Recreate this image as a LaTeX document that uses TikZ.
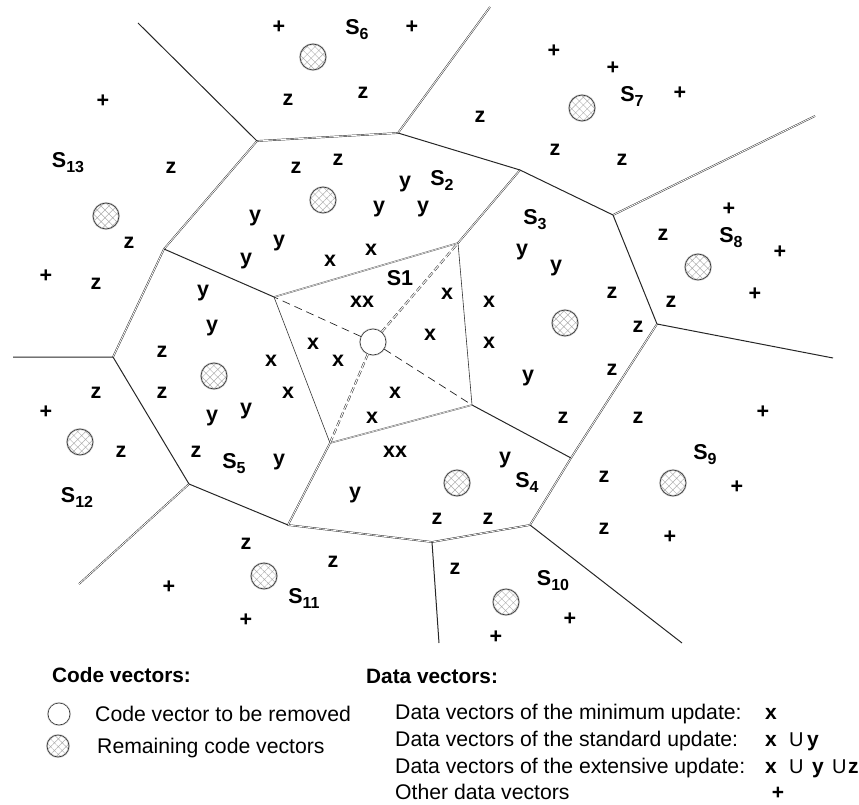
\documentclass[tikz,border=0pt]{standalone}
\usepackage{fontspec}
\setmainfont{Liberation Sans}
\usetikzlibrary{patterns.meta}

% region name with lowered index
\newcommand{\Sidx}[1]{S\raisebox{-5pt}{\fontsize{16}{16}\selectfont #1}}

\begin{document}
\begin{tikzpicture}[x=1pt,y=-1pt,
  lbl/.style={font=\bfseries\fontsize{21.5}{25}\selectfont, inner sep=0pt},
  head/.style={anchor=base west, inner sep=0pt, font=\bfseries\fontsize{20.8}{25}\selectfont},
  legtxt/.style={anchor=base west, inner sep=0pt, font=\fontsize{21.2}{25}\selectfont},
  legsym/.style={anchor=base west, inner sep=0pt, font=\bfseries\fontsize{21}{24}\selectfont},
  legcup/.style={anchor=base west, inner sep=0pt, font=\fontsize{20}{24}\selectfont},
  codevec/.style={circle, minimum size=26pt, inner sep=0pt,
    preaction={draw=gray!35, line width=2pt},
    pattern={Hatch[angle=45,distance=5.5pt,line width=0.45pt]}, pattern color=gray!65,
    draw=black!80, line width=0.6pt},
  removed/.style={circle, minimum size=26pt, inner sep=0pt, fill=white,
    preaction={draw=gray!35, line width=2pt}, draw=black!80, line width=0.6pt},
  edge1/.style={draw=black!85, line width=1pt, line join=round},
  edge2/.style={draw=black!85, line width=0.45pt, double=white, double distance=0.8pt, line join=round},
  quad1/.style={draw=black!80, line width=0.6pt},
  quad2/.style={draw=black!60, line width=0.5pt, double=white, double distance=0.5pt},
  dash1/.style={draw=black!85, line width=0.7pt, dash pattern=on 8pt off 5pt},
  dash2/.style={draw=black!85, line width=0.5pt, double=white, double distance=1pt, dash pattern=on 6pt off 3pt},
]
\useasboundingbox (0,0) rectangle (859,805);

% Voronoi vertices and free ends of the unbounded edges
\coordinate (A) at (257,141);
\coordinate (B) at (398,133);
\coordinate (Btop) at (490,7);
\coordinate (Atop) at (138,23);
\coordinate (C) at (164,249);
\coordinate (D) at (274,297);
\coordinate (E) at (113,357);
\coordinate (Eleft) at (13,357);
\coordinate (F) at (189,484);
\coordinate (Fend) at (79,584);
\coordinate (G) at (288,525);
\coordinate (H) at (330,443);
\coordinate (J) at (432,542);
\coordinate (Jend) at (439,643);
\coordinate (I) at (530,525);
\coordinate (Iend) at (682,643);
\coordinate (K) at (571,458);
\coordinate (L) at (472,405);
\coordinate (M) at (657,324);
\coordinate (Mend) at (833,358);
\coordinate (N) at (613,215);
\coordinate (Nend) at (815,116);
\coordinate (O) at (520,170);
\coordinate (P) at (458,243);

% cell borders drawn as double lines
\draw[edge2] (Btop) -- (B) -- (A) -- (C) -- (E);
\draw[edge2] (F) -- (Fend);
\draw[edge2] (H) -- (G) -- (J) -- (I) -- (K) -- (M);
\draw[edge2] (N) -- (Nend);
\draw[edge2] (O) -- (P);

% cell borders drawn as single lines
\draw[edge1] (Atop) -- (A);
\draw[edge1] (C) -- (D);
\draw[edge1] (Eleft) -- (E) -- (F) -- (G);
\draw[edge1] (B) -- (O) -- (N) -- (M) -- (Mend);
\draw[edge1] (L) -- (K);
\draw[edge1] (I) -- (Iend);
\draw[edge1] (J) -- (Jend);

% cell S1 of the removed code vector
\draw[quad2] (D) -- (P);
\draw[quad1] (P) -- (L);
\draw[quad2] (L) -- (H);
\draw[quad1] (H) -- (D);

% code vectors
\node[removed] (c1) at (373,342) {};
\node[codevec] (c2) at (323,200) {};
\node[codevec] (c3) at (565,323) {};
\node[codevec] (c4) at (457,483) {};
\node[codevec] (c5) at (214,376) {};
\node[codevec] (c6) at (313,57) {};
\node[codevec] (c7) at (582,108) {};
\node[codevec] (c8) at (698,267) {};
\node[codevec] (c9) at (673,483) {};
\node[codevec] (c10) at (506,602) {};
\node[codevec] (c11) at (264,576) {};
\node[codevec] (c12) at (80,442) {};
\node[codevec] (c13) at (106,216) {};

% splitting of S1 among its neighbours
\draw[dash1] (c1) -- (D);
\draw[dash1] (c1) -- (L);
\draw[dash2] (c1) -- (P);
\draw[dash2] (c1) -- (H);

% data vectors and cell names
\foreach \xx/\yy/\t [count=\n] in {
  279/27/+, 357/30/{\Sidx{6}}, 412/27/+, 288/100/z, 363/93/z,
  103/101/+, 68/163/{\Sidx{13}}, 171/168/z, 129/243/z, 46/276/+, 96/284/z,
  296/168/z, 338/160/z, 405/184/y, 442/180/{\Sidx{2}}, 379/209/y, 423/209/y,
  255/218/y, 279/243/y, 246/261/y, 330/261/x, 371/250/x,
  400/278/S1, 362/302/xx, 447/294/x, 430/335/x, 313/344/x, 338/361/x, 395/393/x, 372/418/x,
  203/293/y, 212/328/y, 162/352/z, 271/361/x, 162/393/z, 288/393/x, 212/418/y, 246/411/y,
  196/452/z, 234/464/{\Sidx{5}}, 279/462/y,
  96/393/z, 46/412/+, 121/452/z, 77/497/{\Sidx{12}},
  246/544/z, 333/562/z, 169/587/+, 304/598/{\Sidx{11}}, 246/620/+,
  395/452/xx, 355/495/y, 505/460/y, 527/482/{\Sidx{4}}, 437/519/z, 488/519/z,
  455/569/z, 553/581/{\Sidx{10}}, 570/619/+, 496/637/+,
  535/220/{\Sidx{3}}, 522/252/y, 556/268/y, 489/302/x, 489/343/x, 612/293/z, 638/327/z,
  528/378/y, 612/370/z, 563/418/z,
  638/418/z, 604/477/z, 604/529/z, 705/455/{\Sidx{9}}, 763/412/+, 737/487/+, 670/537/+,
  729/209/+, 663/235/z, 731/238/{\Sidx{8}}, 780/252/+, 755/294/+, 671/302/z,
  554/51/+, 613/68/+, 632/96/{\Sidx{7}}, 680/93/+, 480/117/z, 555/150/z, 622/160/z}
  \node[lbl] (lab\n) at (\xx,\yy) {\t};

% legend: code vectors
\node[head] (codehead) at (52,682) {Code vectors:};
\node[removed, minimum size=22pt] (legrem) at (59,714) {};
\node[legtxt] (legremtxt) at (95,721) {Code vector to be removed};
\node[codevec, minimum size=22pt] (legkeep) at (58,746) {};
\node[legtxt] (legkeeptxt) at (97,753) {Remaining code vectors};

% legend: data vectors
\node[head] (datahead) at (366,683) {Data vectors:};
\node[legtxt] (dmin) at (395,719) {Data vectors of the minimum update:};
\node[legtxt] (dstd) at (395,746) {Data vectors of the standard update:};
\node[legtxt] (dext) at (395,773) {Data vectors of the extensive update:};
\node[legtxt] (doth) at (395,799) {Other data vectors};

\node[legsym] (smin) at (765,719) {x};
\node[legsym] (sstdx) at (765,746) {x};
\node[legcup] (sstdu) at (789,746) {U};
\node[legsym] (sstdy) at (807,746) {y};
\node[legsym] (sextx) at (765,773) {x};
\node[legcup] (sextu1) at (789,773) {U};
\node[legsym] (sexty) at (812,773) {y};
\node[legcup] (sextu2) at (832,773) {U};
\node[legsym] (sextz) at (848,773) {z};
\node[legsym, anchor=base] (soth) at (778,799) {+};
\end{tikzpicture}
\end{document}
